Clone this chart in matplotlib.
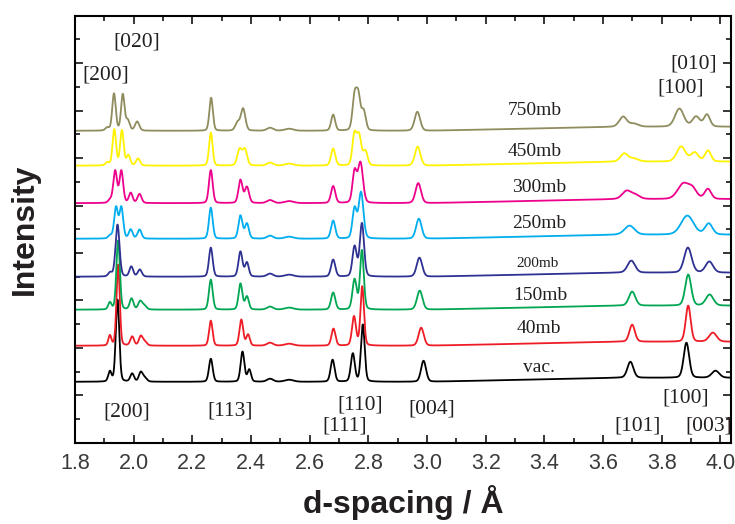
import numpy as np
import matplotlib
matplotlib.use("Agg")
import matplotlib.pyplot as plt
from matplotlib.ticker import MultipleLocator, NullFormatter

# Serien: Druck, Farbe, Basislinie (Achseneinheiten)
labels = ["vac.", "40mb", "150mb", "200mb", "250mb", "300mb", "450mb", "750mb"]
colors = ["#000000", "#ee1c25", "#00a651", "#2e3192", "#00aeef", "#ec008c", "#fff200", "#8f8c5e"]
offsets = [2.57, 4.09, 5.61, 7.0, 8.6, 10.1, 11.68, 13.15]

# Peaks je Serie: (d in Å, Höhe in Pixel des Originals, FWHM in Å)
peaks_vac = [(1.919, 10, .013), (1.945, 82, .014), (1.995, 8, .015), (2.024, 9, .015), (2.037, 4, .018),
             (2.263, 23, .015), (2.371, 30, .015), (2.394, 12, .014), (2.465, 3, .025), (2.53, 2, .035),
             (2.678, 22, .016), (2.747, 28, .016), (2.781, 57, .015), (2.988, 21, .02),
             (3.693, 16, .024), (3.884, 35, .022), (3.983, 7, .03)]
peaks_40 = [(1.919, 10, .012), (1.947, 81, .013), (1.995, 9, .015), (2.024, 9, .015), (2.037, 4, .018),
            (2.263, 25, .014), (2.367, 26, .015), (2.39, 11, .014), (2.465, 3, .025), (2.53, 2, .035),
            (2.681, 17, .016), (2.751, 29, .016), (2.779, 59, .014), (2.98, 18, .021),
            (3.699, 17, .022), (3.89, 36, .02), (3.974, 9, .03)]
peaks_150 = [(1.919, 7, .013), (1.947, 69, .014), (1.993, 11, .015), (2.022, 8, .016), (2.036, 4, .018),
             (2.263, 30, .015), (2.364, 26, .015), (2.386, 13, .015), (2.465, 3, .025), (2.53, 2, .035),
             (2.68, 17, .017), (2.753, 30, .017), (2.778, 59, .015), (2.975, 19, .022),
             (3.699, 14, .026), (3.89, 31, .024), (3.963, 11, .03)]
peaks_200 = [(1.92, 4, .015), (1.945, 52, .016), (1.992, 10, .015), (2.021, 7, .016),
             (2.263, 29, .015), (2.364, 25, .016), (2.386, 14, .015), (2.465, 3, .025), (2.53, 2, .035),
             (2.68, 17, .017), (2.753, 30, .017), (2.778, 53, .017), (2.974, 19, .022),
             (3.696, 12, .03), (3.889, 25, .03), (3.962, 11, .03)]
peaks_250 = [(1.92, 3, .015), (1.94, 31, .015), (1.958, 31, .015), (1.99, 9, .015), (2.02, 9, .016),
             (2.263, 31, .015), (2.364, 23, .016), (2.386, 15, .016), (2.465, 3, .025), (2.53, 2, .035),
             (2.68, 18, .017), (2.753, 30, .017), (2.775, 46, .019), (2.972, 20, .022),
             (3.69, 9, .04), (3.887, 19, .05), (3.96, 11, .03)]
peaks_300 = [(1.92, 3, .015), (1.937, 32, .015), (1.958, 32, .015), (1.99, 10, .015), (2.02, 9, .016),
             (2.263, 33, .015), (2.364, 23, .016), (2.386, 16, .017), (2.465, 3, .025), (2.53, 2, .035),
             (2.68, 17, .017), (2.753, 31, .017), (2.773, 40, .02), (2.97, 20, .022),
             (3.68, 8, .035), (3.71, 4, .035), (3.873, 15, .045), (3.905, 9, .035), (3.957, 10, .026)]
peaks_450 = [(1.91, 3, .015), (1.934, 36, .014), (1.96, 35, .014), (1.982, 10, .015), (2.015, 7, .016),
             (2.263, 33, .014), (2.361, 16, .018), (2.379, 16, .018), (2.465, 3, .025), (2.53, 2, .035),
             (2.68, 17, .017), (2.752, 29, .016), (2.768, 30, .019), (2.79, 14, .017), (2.968, 19, .022),
             (3.672, 8, .03), (3.705, 3, .035), (3.866, 15, .035), (3.912, 9, .03), (3.957, 11, .024)]
peaks_750 = [(1.91, 3, .015), (1.933, 37, .014), (1.963, 36, .014), (1.98, 10, .015), (2.012, 9, .017),
             (2.264, 33, .014), (2.354, 8, .018), (2.373, 22, .018), (2.465, 3, .025), (2.53, 2, .035),
             (2.68, 16, .016), (2.753, 33, .017), (2.766, 32, .017), (2.784, 19, .017), (2.967, 19, .022),
             (3.668, 10, .03), (3.705, 3, .035), (3.86, 18, .035), (3.917, 10, .03), (3.954, 12, .024)]
all_peaks = [peaks_vac, peaks_40, peaks_150, peaks_200, peaks_250, peaks_300, peaks_450, peaks_750]

PX = 23.7  # Pixel pro Achseneinheit im Original


def pattern(d, peaks, eta=0.2):
    y = np.zeros_like(d)
    for c, h, w in peaks:
        g = np.exp(-4 * np.log(2) * ((d - c) / w) ** 2)
        l = 1.0 / (1.0 + 4 * ((d - c) / w) ** 2)
        y += h / PX * ((1 - eta) * g + eta * l)
    # leichter Untergrundanstieg zwischen 3.0 und 3.65 Å
    y += 0.17 * np.clip((d - 3.0) / 0.65, 0, 1)
    return y


d = np.linspace(1.8, 4.04, 4000)

fig = plt.figure(figsize=(7.35, 5.24), dpi=100)
ax = fig.add_axes([0.102, 0.155, 0.893, 0.815])

for lab, col, off, pk in zip(labels, colors, offsets, all_peaks):
    ax.plot(d, off + pattern(d, pk), color=col, lw=1.3)

ax.set_xlim(1.8, 4.037)
ax.set_ylim(0, 18)

ax.xaxis.set_major_locator(MultipleLocator(0.2))
ax.xaxis.set_minor_locator(MultipleLocator(0.1))
ax.yaxis.set_major_locator(MultipleLocator(2))
ax.yaxis.set_minor_locator(MultipleLocator(1))
ax.yaxis.set_major_formatter(NullFormatter())
ax.tick_params(which="both", direction="in", top=True, right=True, width=1.1)
ax.tick_params(which="major", length=6)
ax.tick_params(which="minor", length=3.5)
for lbl in ax.get_xticklabels():
    lbl.set_family("Liberation Sans")
    lbl.set_fontsize(15.5)
    lbl.set_color("#3a3a3a")
ax.tick_params(axis="x", pad=7)
for s in ax.spines.values():
    s.set_linewidth(1.5)

ax.set_xlabel("d-spacing / Å", fontsize=23, fontweight="bold", family="Liberation Sans",
              color="#231f20", labelpad=8)
ax.set_ylabel("Intensity", fontsize=23, fontweight="bold", family="Liberation Sans",
              color="#231f20", labelpad=22)

# Beschriftungen der Druckstufen (Pixelpositionen -> Daten)
def to_data(px, py):
    return 1.8 + (px - 75) / 293.2, (443 - py) / PX

serif = "Liberation Serif"
press_pos = [(539, 368), (539, 329), (540, 296), (537, 264), (539, 224), (539, 188), (534, 152), (535, 111)]
for lab, (px, py) in zip(labels, press_pos):
    x, y = to_data(px, py)
    fs = 11 if lab == "200mb" else 14
    ax.text(x, y, lab, family=serif, fontsize=fs, ha="center", va="center", color="#231f20")

hkl_text = ["[020]", "[200]", "[200]", "[113]", "[110]", "[111]", "[004]", "[101]", "[100]", "[003]", "[010]", "[100]"]
hkl_pos = [(137, 43), (106, 76), (127, 412), (230, 411), (360, 405), (345, 426), (432, 409),
           (637, 426), (685, 398), (708, 426), (693, 65), (680, 89)]
for t, (px, py) in zip(hkl_text, hkl_pos):
    x, y = to_data(px, py)
    ax.text(x, y, t, family=serif, fontsize=15.5, ha="center", va="center", color="#231f20")

fig.savefig("out.png", dpi=100)
